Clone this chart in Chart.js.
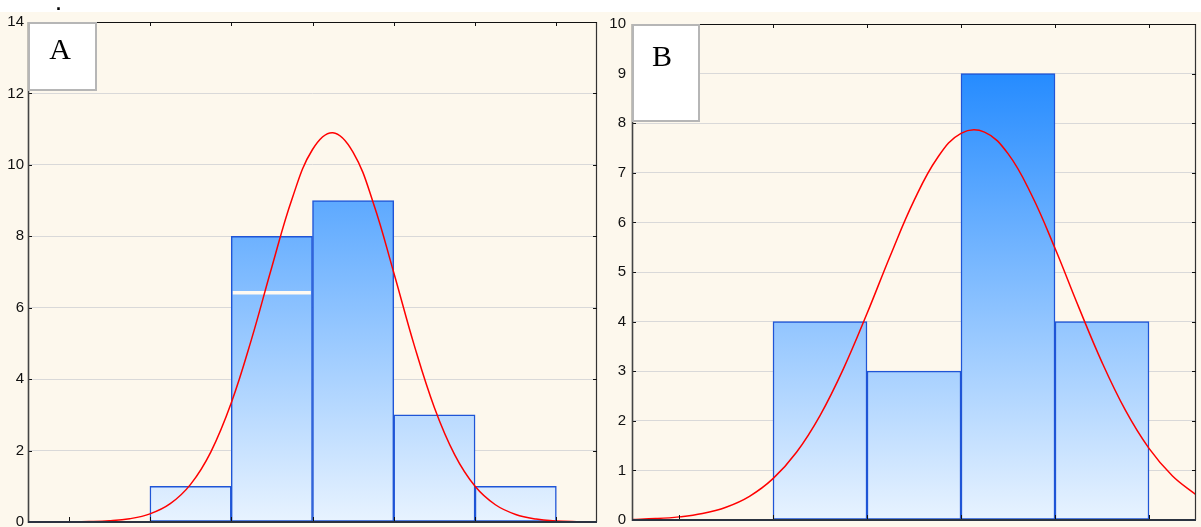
<!DOCTYPE html>
<html>
<head>
<meta charset="utf-8">
<script src="https://cdn.jsdelivr.net/npm/chart.js@4/dist/chart.umd.min.js"></script>
<style>
  html, body { margin: 0; padding: 0; background: #ffffff; }
  #wrap { position: relative; width: 1201px; height: 527px; overflow: hidden; }
  canvas { position: absolute; top: 0; }
  #dot { position: absolute; left: 56px; top: -5px; font: bold 18px "Liberation Sans", Arial, sans-serif; color: #000; line-height: 18px; }
</style>
</head>
<body>
<div id="wrap">
  <canvas id="cA" width="600" height="527" style="left:0px"></canvas>
  <canvas id="cB" width="601" height="527" style="left:600px"></canvas>
  <div id="dot">.</div>
</div>
<script>
// ---------- Panel A data ----------
const panelLabelA = "A";
const binCentersA = [1.5, 2.5, 3.5, 4.5, 5.5];
const countsA = [1, 8, 9, 3, 1];
const xTicksA = [0, 1, 2, 3, 4, 5, 6];
const yTicksA = [0, 2, 4, 6, 8, 10, 12, 14];
const curveXA = [-0.5,-0.25,0,0.25,0.5,0.75,1,1.25,1.5,1.75,2,2.25,2.5,2.75,3,3.25,3.5,3.75,4,4.25,4.5,4.75,5,5.25,5.5,5.75,6,6.25,6.5];
const curveYA = [0.0,0.001,0.003,0.011,0.033,0.091,0.227,0.513,1.054,1.965,3.33,5.12,7.14,9.06,10.43,10.9,10.35,8.92,6.98,4.96,3.20,1.88,1.00,0.483,0.212,0.084,0.030,0.010,0.003];
const stripeXA = [2.02, 2.98];
const stripeYA = [6.42, 6.42];

// ---------- Panel B data ----------
const panelLabelB = "B";
const binCentersB = [1.5, 2.5, 3.5, 4.5];
const countsB = [4, 3, 9, 4];
const xTicksB = [0, 1, 2, 3, 4, 5];
const yTicksB = [0, 1, 2, 3, 4, 5, 6, 7, 8, 9, 10];
const curveXB = [-0.5,-0.25,0,0.25,0.5,0.75,1,1.25,1.5,1.75,2,2.25,2.5,2.75,3,3.25,3.5,3.75,4,4.25,4.5,4.75,5,5.25,5.5];
const curveYB = [0.012,0.028,0.063,0.131,0.258,0.478,0.834,1.366,2.106,3.053,4.162,5.339,6.439,7.304,7.795,7.82,7.386,6.558,5.478,4.302,3.179,2.209,1.444,0.888,0.51];

const CREAM = '#fdf8ed';

function barGradient(ctx) {
  const chart = ctx.chart;
  const a = chart.chartArea;
  if (!a) return '#7fbfff';
  const g = chart.ctx.createLinearGradient(0, a.top, 0, a.bottom);
  g.addColorStop(0, '#1080ff');
  g.addColorStop(1, '#e8f3ff');
  return g;
}

function makePanel(canvasId, o) {
  const bgPlugin = {
    id: 'bg_' + canvasId,
    beforeDraw(chart) {
      const c = chart.ctx;
      c.save();
      c.fillStyle = '#ffffff';
      c.fillRect(0, 0, chart.width, chart.height);
      c.fillStyle = CREAM;
      c.fillRect(0, 12, chart.width, chart.height - 12);
      c.restore();
    }
  };
  const framePlugin = {
    id: 'frame_' + canvasId,
    afterDatasetsDraw(chart) {
      const c = chart.ctx;
      const a = chart.chartArea;
      const xs = chart.scales.x, ys = chart.scales.y;
      const tl = 4;
      c.save();
      c.strokeStyle = '#111'; c.lineWidth = 1.2;
      c.beginPath(); c.moveTo(a.left, a.top + 0.5); c.lineTo(a.right, a.top + 0.5); c.stroke();
      c.strokeStyle = '#333'; c.lineWidth = 1.2;
      c.beginPath(); c.moveTo(a.right - 0.5, a.top); c.lineTo(a.right - 0.5, a.bottom); c.stroke();
      c.strokeStyle = '#111'; c.lineWidth = 1;
      o.xTicks.forEach(v => {
        const px = Math.round(xs.getPixelForValue(v)) + 0.5;
        c.beginPath(); c.moveTo(px, a.top); c.lineTo(px, a.top + tl); c.stroke();
        c.beginPath(); c.moveTo(px, a.bottom); c.lineTo(px, a.bottom - tl - 1); c.stroke();
      });
      o.yTicks.forEach(v => {
        const py = Math.round(ys.getPixelForValue(v)) + 0.5;
        c.beginPath(); c.moveTo(a.left, py); c.lineTo(a.left + tl, py); c.stroke();
        c.beginPath(); c.moveTo(a.right, py); c.lineTo(a.right - tl, py); c.stroke();
      });
      c.strokeStyle = '#444'; c.lineWidth = 1.6;
      c.beginPath(); c.moveTo(a.left + 0.5, a.top); c.lineTo(a.left + 0.5, a.bottom + 1); c.stroke();
      c.strokeStyle = '#2b3340'; c.lineWidth = 2.2;
      c.beginPath(); c.moveTo(a.left, a.bottom); c.lineTo(a.right, a.bottom); c.stroke();
      c.fillStyle = '#ffffff';
      c.fillRect(a.left, a.top, o.boxW, o.boxH);
      c.strokeStyle = '#b6b6b6'; c.lineWidth = 2;
      c.strokeRect(a.left + 1, a.top + 1, o.boxW - 1, o.boxH - 1);
      c.fillStyle = '#000';
      c.font = '30px "Liberation Serif", "Times New Roman", serif';
      c.textAlign = 'center'; c.textBaseline = 'middle';
      c.fillText(o.label, a.left + o.labelDX, a.top + o.labelDY);
      c.restore();
    }
  };

  return new Chart(document.getElementById(canvasId), {
    data: {
      datasets: [
        {
          type: 'line',
          data: o.curveX.map((x, i) => ({ x: x, y: o.curveY[i] })),
          borderColor: '#ff0000',
          borderWidth: 1.5,
          pointRadius: 0,
          tension: 0.4,
          fill: false,
          order: 0
        },
        ...(o.stripeX ? [{
          type: 'line',
          data: o.stripeX.map((x, i) => ({ x: x, y: o.stripeY[i] })),
          borderColor: '#fffaf2',
          borderWidth: 3.5,
          pointRadius: 0,
          fill: false,
          order: 1
        }] : []),
        {
          type: 'bar',
          data: o.centers.map((x, i) => ({ x: x, y: o.counts[i] })),
          backgroundColor: barGradient,
          borderColor: '#1f55d6',
          borderWidth: 1.5,
          borderSkipped: false,
          barPercentage: 1,
          categoryPercentage: 1,
          grouped: false,
          order: 2
        }
      ]
    },
    options: {
      responsive: false,
      animation: false,
      devicePixelRatio: 1,
      layout: { padding: { left: 0, top: o.padTop, right: o.padRight, bottom: o.padBottom } },
      plugins: { legend: { display: false }, tooltip: { enabled: false } },
      scales: {
        x: {
          type: 'linear',
          display: false,
          offset: false,
          min: o.xMin, max: o.xMax,
          afterBuildTicks(scale) { scale.ticks = o.xTicks.map(v => ({ value: v })); }
        },
        y: {
          type: 'linear',
          min: 0, max: o.yMax,
          afterBuildTicks(scale) { scale.ticks = o.yTicks.map(v => ({ value: v })); },
          afterFit(scale) { scale.width = o.yWidth; scale.paddingTop = 0; scale.paddingBottom = 0; },
          border: { display: false },
          grid: { color: '#d9d9d9', lineWidth: 1, drawTicks: false },
          ticks: {
            padding: o.tickPad,
            color: '#111',
            font: { family: '"Liberation Sans", Arial, sans-serif', size: 15 }
          }
        }
      }
    },
    plugins: [bgPlugin, framePlugin]
  });
}

makePanel('cA', {
  label: panelLabelA, centers: binCentersA, counts: countsA,
  xTicks: xTicksA, yTicks: yTicksA, curveX: curveXA, curveY: curveYA,
  stripeX: stripeXA, stripeY: stripeYA,
  xMin: -0.5, xMax: 6.5, yMax: 14,
  padTop: 22, padRight: 3, padBottom: 5, yWidth: 28, tickPad: 4,
  boxW: 68, boxH: 68, labelDX: 32, labelDY: 29
});

makePanel('cB', {
  label: panelLabelB, centers: binCentersB, counts: countsB,
  xTicks: xTicksB, yTicks: yTicksB, curveX: curveXB, curveY: curveYB,
  xMin: -0.5, xMax: 5.5, yMax: 10,
  padTop: 24, padRight: 5, padBottom: 7, yWidth: 32, tickPad: 6,
  boxW: 67, boxH: 97, labelDX: 30, labelDY: 34
});
</script>
</body>
</html>
